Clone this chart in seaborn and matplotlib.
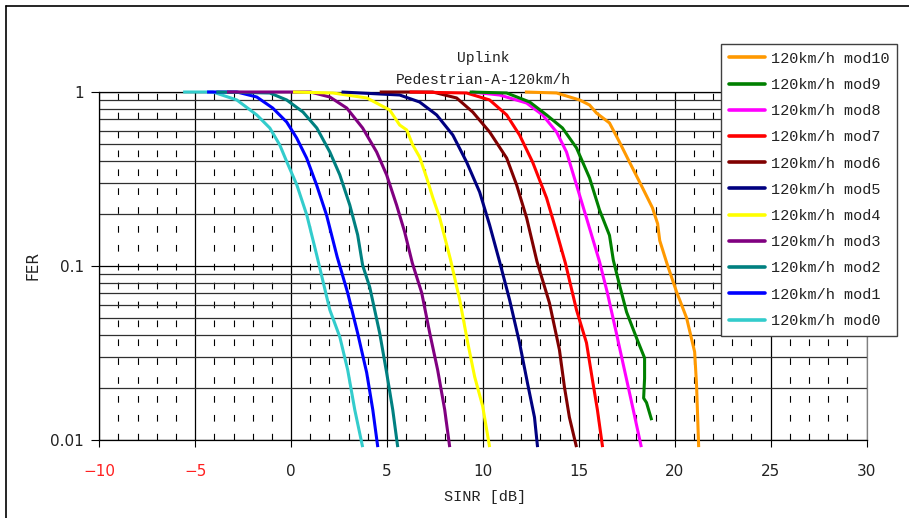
import numpy as np
import pandas as pd
import matplotlib
matplotlib.use("Agg")
import matplotlib.pyplot as plt
from matplotlib.lines import Line2D
from matplotlib.ticker import FixedLocator, MultipleLocator, NullFormatter
import seaborn as sns

# ---------------- data ----------------
mod0_snr = [-5.63, -4.08, -2.83, -1.79, -1.11, -0.59, -0.22, 0.30, 0.82, 1.34, 2.02, 2.54, 2.95, 3.32, 3.73]
mod0_fer = [1.0, 1.0, 0.9, 0.738, 0.621, 0.496, 0.396, 0.292, 0.196, 0.115, 0.0559, 0.0391, 0.0253, 0.0149, 0.0091]

mod1_snr = [-4.38, -2.83, -1.79, -0.96, -0.23, 0.29, 0.81, 1.33, 1.85, 2.40, 2.95, 3.47, 3.94, 4.26, 4.52]
mod1_fer = [1.0, 1.0, 0.936, 0.809, 0.672, 0.544, 0.417, 0.292, 0.196, 0.113, 0.0701, 0.0411, 0.0244, 0.0149, 0.0091]

mod2_snr = [-3.9, -1.11, -0.23, 0.62, 1.34, 2.02, 2.54, 3.06, 3.47, 3.73, 4.10, 4.62, 4.98, 5.30, 5.56]
mod2_fer = [1.0, 0.987, 0.9, 0.767, 0.621, 0.452, 0.334, 0.224, 0.151, 0.101, 0.0756, 0.0411, 0.0244, 0.0149, 0.0091]

mod3_snr = [-3.34, 1.0, 2.02, 2.90, 3.73, 4.46, 4.98, 5.50, 5.92, 6.32, 6.81, 7.23, 7.64, 8.01, 8.27]
mod3_fer = [1.0, 1.0, 0.936, 0.809, 0.621, 0.452, 0.334, 0.224, 0.157, 0.104, 0.0701, 0.0411, 0.0253, 0.0149, 0.0091]

mod4_snr = [0.1, 2.18, 3.95, 5.14, 5.66, 6.03, 6.34, 6.70, 7.07, 7.38, 7.75, 8.30, 8.79, 9.21, 9.57, 9.99, 10.35]
mod4_fer = [1.0, 0.987, 0.924, 0.788, 0.646, 0.605, 0.496, 0.423, 0.321, 0.249, 0.189, 0.11, 0.064, 0.0362, 0.0231, 0.0156, 0.0091]

mod5_snr = [2.63, 5.66, 6.70, 7.59, 8.43, 9.15, 9.83, 10.35, 10.87, 11.39, 11.91, 12.33, 12.69, 12.85]
mod5_fer = [1.0, 0.961, 0.876, 0.738, 0.566, 0.396, 0.266, 0.172, 0.106, 0.064, 0.0362, 0.0211, 0.0135, 0.0091]

mod6_snr = [4.62, 7.38, 8.63, 9.47, 10.35, 11.24, 11.76, 12.28, 12.82, 13.47, 13.99, 14.25, 14.51, 14.88]
mod6_fer = [1.0, 1.0, 0.924, 0.767, 0.589, 0.417, 0.292, 0.189, 0.106, 0.0613, 0.0330, 0.0202, 0.0135, 0.0091]

mod7_snr = [6.18, 9.15, 10.35, 11.24, 11.91, 12.59, 13.32, 13.84, 14.30, 14.88, 15.40, 15.71, 15.97, 16.24]
mod7_fer = [1.0, 0.987, 0.9, 0.738, 0.566, 0.396, 0.246, 0.157, 0.104, 0.0559, 0.0362, 0.0222, 0.0149, 0.0091]

mod8_snr = [9.41, 10.87, 12.28, 13.11, 13.84, 14.36, 14.88, 15.40, 16.08, 16.49, 16.96, 17.38, 17.80, 18.26]
mod8_fer = [1.0, 0.961, 0.864, 0.738, 0.589, 0.452, 0.292, 0.189, 0.106, 0.0701, 0.0411, 0.0253, 0.0156, 0.0091]

mod9_snr = [9.31, 11.24, 12.44, 13.32, 14.15, 14.88, 15.56, 16.08, 16.60, 16.80, 17.12, 17.49, 18.01, 18.43, 18.43, 18.38, 18.53, 18.80]
mod9_fer = [1.0, 0.987, 0.876, 0.738, 0.621, 0.477, 0.321, 0.210, 0.150, 0.108, 0.0780, 0.0544, 0.0386, 0.0296, 0.0226, 0.0174, 0.0164, 0.0130]

mod10_snr = [12.19, 13.84, 15.04, 15.56, 15.92, 16.60, 17.12, 17.64, 18.17, 18.84, 19.11, 19.22, 19.60, 20.10, 20.62, 21.04, 21.14, 21.25]
mod10_fer = [1.0, 0.987, 0.9, 0.842, 0.757, 0.664, 0.516, 0.396, 0.304, 0.216, 0.175, 0.14, 0.103, 0.0709, 0.0503, 0.0321, 0.0206, 0.0091]

series_names = ["120km/h mod0", "120km/h mod1", "120km/h mod2", "120km/h mod3", "120km/h mod4",
                "120km/h mod5", "120km/h mod6", "120km/h mod7", "120km/h mod8", "120km/h mod9",
                "120km/h mod10"]
series_colors = ["#33CCCC", "#0000FF", "#008080", "#800080", "#FFFF00",
                 "#000080", "#800000", "#FF0000", "#FF00FF", "#008000", "#FF9900"]

x_ticks = [-10, -5, 0, 5, 10, 15, 20, 25, 30]
y_ticks = [1, 0.1, 0.01]
y_tick_labels = ["1", "0.1", "0.01"]

title_lines = ["Uplink", "Pedestrian-A-120km/h"]
x_label = "SINR [dB]"
y_label = "FER"

# ---------------- build long table ----------------
all_snr = [mod0_snr, mod1_snr, mod2_snr, mod3_snr, mod4_snr, mod5_snr,
           mod6_snr, mod7_snr, mod8_snr, mod9_snr, mod10_snr]
all_fer = [mod0_fer, mod1_fer, mod2_fer, mod3_fer, mod4_fer, mod5_fer,
           mod6_fer, mod7_fer, mod8_fer, mod9_fer, mod10_fer]
frames = []
for name, xs, ys in zip(series_names, all_snr, all_fer):
    frames.append(pd.DataFrame({"SINR": xs, "FER": ys, "series": name}))
df = pd.concat(frames, ignore_index=True)

# ---------------- plot ----------------
sns.set_theme(style="white")
plt.rcParams["font.family"] = ["DejaVu Sans"]

fig = plt.figure(figsize=(9.09, 5.18), dpi=100)
W, H = 909, 518
ax = fig.add_axes([99.3 / W, 1 - 440 / H, (866.5 - 99.3) / W, (440 - 92) / H])

palette = dict(zip(series_names, series_colors))
sns.lineplot(data=df, x="SINR", y="FER", hue="series",
             palette=palette, hue_order=series_names, sort=False, estimator=None,
             linewidth=2.2, ax=ax, legend=False, clip_on=False, zorder=3)
for ln in ax.get_lines():
    ln.set_solid_joinstyle("round")
    ln.set_solid_capstyle("butt")

ax.set_yscale("log")
ax.set_xlim(-10, 30)
ax.set_ylim(0.01, 1)

ax.xaxis.set_major_locator(FixedLocator(x_ticks))
ax.xaxis.set_minor_locator(MultipleLocator(1))
ax.yaxis.set_major_locator(FixedLocator(y_ticks))
ax.set_yticklabels(y_tick_labels)
minor_y = [m * d for d in (0.01, 0.1) for m in range(2, 10)]
ax.yaxis.set_minor_locator(FixedLocator(minor_y))
ax.yaxis.set_minor_formatter(NullFormatter())

ax.grid(True, which="major", axis="both", color="black", linewidth=0.9, zorder=1)
ax.grid(True, which="minor", axis="y", color="#303030", linewidth=0.9, zorder=1)
ax.grid(True, which="minor", axis="x", color="black", linewidth=0.8,
        linestyle=(0, (6, 11)), zorder=1)

ax.tick_params(axis="x", which="major", direction="out", length=5, width=0.8,
               color="black", bottom=True, labelsize=11, pad=12, labelcolor="#222222")
ax.tick_params(axis="y", which="major", direction="out", length=6, width=0.8,
               color="black", left=True, labelsize=11, pad=5, labelcolor="#222222")
ax.tick_params(which="minor", length=0)

for lbl, v in zip(ax.get_xticklabels(), x_ticks):
    if v < 0:
        lbl.set_color("#FF2020")

for side in ["left", "bottom", "top"]:
    ax.spines[side].set_color("black")
    ax.spines[side].set_linewidth(0.9)
ax.spines["right"].set_color("#808080")
ax.spines["right"].set_linewidth(0.9)

ax.set_xlabel("")
ax.set_ylabel("")

# titles and labels
fig.text(483 / W, 1 - 58 / H, title_lines[0], ha="center", va="center",
         fontsize=10.5, family="Liberation Mono", color="#222222")
fig.text(483 / W, 1 - 80 / H, title_lines[1], ha="center", va="center",
         fontsize=10.5, family="Liberation Mono", color="#222222")
fig.text(485 / W, 1 - 497 / H, x_label, ha="center", va="center",
         fontsize=11, family="Liberation Mono", color="#222222")
fig.text(33 / W, 1 - 265 / H, y_label, ha="center", va="center", rotation=90,
         fontsize=11, color="#222222")

# legend (top entry = mod10)
handles = [Line2D([0], [0], color=c, lw=2.6) for c in series_colors[::-1]]
leg = fig.legend(handles, series_names[::-1], loc="upper left",
                 bbox_to_anchor=(721 / W, 1 - 44 / H), borderaxespad=0,
                 frameon=True, fancybox=False,
                 edgecolor="#404040", framealpha=1, borderpad=0.5, labelspacing=0.8,
                 handlelength=2.4, handletextpad=0.35,
                 prop={"family": "Liberation Mono", "size": 11})
leg.get_frame().set_linewidth(1.0)
for t in leg.get_texts():
    t.set_color("#222222")

# figure frame lines (top and left)
fig.add_artist(Line2D([6 / W, 1], [1 - 6 / H, 1 - 6 / H], transform=fig.transFigure,
                      color="black", lw=1.2))
fig.add_artist(Line2D([6 / W, 6 / W], [0, 1 - 6 / H], transform=fig.transFigure,
                      color="black", lw=1.2))

fig.savefig("out.png", dpi=100)
